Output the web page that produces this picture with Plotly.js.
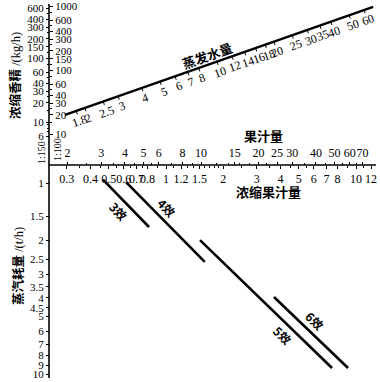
<!DOCTYPE html>
<html><head><meta charset="utf-8">
<script src="https://cdn.plot.ly/plotly-3.0.1.min.js"></script>
<style>html,body{margin:0;padding:0;background:#fff}#chart{width:380px;height:382px}</style>
</head><body><div id="chart"></div>
<script>
// ---------- DATA ----------
const juiceVals = [2,3,4,5,6,8,10,15,20,25,30,40,50,60,70];            // 果汁量
const juiceMinor = [2.5,3.5,4.5,5.5,7,9,12,14,16,18,22,35,45,55,65];
const concVals = [0.3,0.4,0.5,0.6,0.7,0.8,1,1.2,1.5,2,3,4,5,6,7,8,10,12]; // 浓缩果汁量
const concMinor = [0.35,0.45,0.55,0.65,0.75,0.9,1.1,1.3,1.4,1.6,1.7,1.8,1.9,2.5,3.5,4.5,5.5,9,11];
const ess150Vals = [6,10,20,30,40,60,100,150,200,300,400,600];          // 浓缩香精 1:150
const ess150Minor = [7,8,9,15,25,50,80,120,250,500];
const ess100Vals = [10,20,30,40,60,100,150,200,300,400,600,1000];       // 浓缩香精 1:100
const ess100Minor = [15,25,50,80,120,250,500,800];
const steamVals = [1,1.5,2,2.5,3,3.5,4,4.5,5,6,7,8,9,10];              // 蒸汽耗量
const evapVals = [1.8,2,2.5,3,4,5,6,7,8,10,12,14,16,18,20,25,30,35,40,50,60]; // 蒸发水量
const evapRange = [1.57, 67];
const effectNames = ['3效','4效','5效','6效'];
const effectConcStart = [0.466,0.616,1.51,3.70];
const effectConcEnd   = [0.814,1.60,7.48,9.08];
const effectSteamStart = [0.96,0.99,1.99,3.95];
const effectSteamEnd   = [1.70,2.59,9.30,9.30];

// ---------- GEOMETRY / STYLE ----------
const W = 380, H = 382;
const AX_X = 49, AX_Y = 165;
const juiceS = {o:10, k:191};     // x = o + k*log v
const concS  = {o:166, k:190};
const steamS = {o:183, k:191};    // y(down) = o + k*log v
const e150S  = {o:186, k:64};     // y(down) = o - k*log v
const e100S  = {o:198, k:64};
const evapS  = {o:28, k:189, x0:65, y0:115, slope:0.351};
const effLabelT = [0.5,0.42,0.68,0.45];
const effLabelSide = [-1,1,-1,1];

const L = Math.log10;
const serif = 'Liberation Serif';
const cjk = 'Noto Sans CJK SC';
const tickFont = {family: serif, size: 12, color: '#000'};
const upFont = {family: serif, size: 11, color: '#000'};

function concX(v){return concS.o + concS.k*L(v);}
function steamY(v){return steamS.o + steamS.k*L(v);}
function evapX(v){return evapS.o + evapS.k*L(v);}
function evapY(x){return evapS.y0 - evapS.slope*(x - evapS.x0);}

const baseAx = {showgrid:false, zeroline:false, showline:false, ticks:'outside', ticklen:3,
  tickwidth:1, tickcolor:'#000', tickangle:0, tickfont:tickFont, fixedrange:true, tickmode:'array'};
function minor(vals){return {tickmode:'array', tickvals:vals, ticks:'outside', ticklen:2, tickwidth:1, tickcolor:'#000', showgrid:false};}

const traces = [];
for (let i=0;i<effectNames.length;i++){
  traces.push({type:'scatter', mode:'lines', xaxis:'x2', yaxis:'y2',
    x:[effectConcStart[i], effectConcEnd[i]], y:[effectSteamStart[i], effectSteamEnd[i]],
    line:{color:'#000', width:2.6}, hoverinfo:'skip'});
}
traces.push({type:'scatter', mode:'none', xaxis:'x3', yaxis:'y2', x:[juiceVals[0]], y:[steamVals[0]], hoverinfo:'skip'});
traces.push({type:'scatter', mode:'none', xaxis:'x2', yaxis:'y3', x:[concVals[0]], y:[ess150Vals[0]], hoverinfo:'skip'});
traces.push({type:'scatter', mode:'none', xaxis:'x2', yaxis:'y4', x:[concVals[0]], y:[ess100Vals[0]], hoverinfo:'skip'});

const th = Math.atan(evapS.slope);
const nx = Math.sin(th), ny = Math.cos(th);
const ex0 = evapX(evapRange[0]), ex1 = evapX(evapRange[1]);
traces.push({type:'scatter', mode:'lines', xaxis:'x', yaxis:'y',
  x:[ex0, ex1], y:[evapY(ex0), evapY(ex1)], line:{color:'#000', width:2.4}, hoverinfo:'skip'});
const tx=[], ty=[];
evapVals.forEach(v=>{const x=evapX(v), y=evapY(x); tx.push(x, x+nx*3.5, null); ty.push(y, y+ny*3.5, null);});
traces.push({type:'scatter', mode:'lines', xaxis:'x', yaxis:'y', x:tx, y:ty,
  line:{color:'#000', width:1}, hoverinfo:'skip'});

const annotations = [];
const angDeg = th*180/Math.PI;
evapVals.forEach(v=>{
  const x=evapX(v), y=evapY(x);
  annotations.push({xref:'x', yref:'y', x:x+nx*10.5, y:y+ny*10.5, text:String(v), showarrow:false,
    textangle:-angDeg, font:tickFont, xanchor:'center', yanchor:'middle'});
});
for (let i=0;i<effectNames.length;i++){
  const xa=concX(effectConcStart[i]), ya=steamY(effectSteamStart[i]);
  const xb=concX(effectConcEnd[i]), yb=steamY(effectSteamEnd[i]);
  const t=effLabelT[i];
  const dx=xb-xa, dy=yb-ya, len=Math.hypot(dx,dy);
  const px = dy/len, py = -dx/len;
  const ang = Math.atan2(dy,dx)*180/Math.PI;
  annotations.push({xref:'x', yref:'y', x:xa+dx*t+px*11*effLabelSide[i], y:ya+dy*t+py*11*effLabelSide[i],
    text:'<b>'+effectNames[i]+'</b>', showarrow:false, textangle:ang,
    font:{family:cjk, size:12, color:'#000'}, xanchor:'center', yanchor:'middle'});
}
const titleFont = {family:cjk, size:13, color:'#000'};
const unit = s => '<span style="font-family:Liberation Serif;font-weight:normal">'+s+'</span>';
annotations.push({xref:'x', yref:'y', x:14, y:76, text:'<b>浓缩香精</b>'+unit(' /(kg/h)'), textangle:-90, showarrow:false, font:{family:cjk, size:12.5, color:'#000'}});
annotations.push({xref:'x', yref:'y', x:17, y:266, text:'<b>蒸汽耗量</b>'+unit(' /(t/h)'), textangle:-90, showarrow:false, font:{family:cjk, size:12.5, color:'#000'}});
annotations.push({xref:'x', yref:'y', x:263, y:135, text:'<b>果汁量</b>', showarrow:false, font:titleFont});
annotations.push({xref:'x', yref:'y', x:268, y:191, text:'<b>浓缩果汁量</b>', showarrow:false, font:titleFont});
annotations.push({xref:'x', yref:'y', x:207, y:55, text:'<b>蒸发水量</b>', textangle:-angDeg, showarrow:false, font:titleFont});
annotations.push({xref:'x', yref:'y', x:41, y:153, text:'1:150', textangle:-90, showarrow:false, font:{family:serif, size:10, color:'#000'}});
annotations.push({xref:'x', yref:'y', x:57, y:150, text:'1:100', textangle:-90, showarrow:false, font:{family:serif, size:10, color:'#000'}});

const posX = AX_X/W, posY = 1 - AX_Y/H;
const layout = {
  width:W, height:H, margin:{l:0,r:0,t:0,b:0}, paper_bgcolor:'#fff', plot_bgcolor:'#fff', showlegend:false,
  xaxis:{range:[0,W], visible:false, fixedrange:true},
  yaxis:{range:[H,0], visible:false, fixedrange:true},
  xaxis2:Object.assign({}, baseAx, {type:'log', overlaying:'x', anchor:'free', position:posY, side:'bottom',
    range:[-concS.o/concS.k, (W-concS.o)/concS.k], tickvals:concVals, ticktext:concVals.map(String), minor:minor(concMinor)}),
  xaxis3:Object.assign({}, baseAx, {type:'log', overlaying:'x', anchor:'free', position:posY, side:'top',
    range:[-juiceS.o/juiceS.k, (W-juiceS.o)/juiceS.k], tickvals:juiceVals, ticktext:juiceVals.map(String), minor:minor(juiceMinor)}),
  yaxis2:Object.assign({}, baseAx, {type:'log', overlaying:'y', anchor:'free', position:posX, side:'left', tickfont:upFont,
    range:[(H-steamS.o)/steamS.k, -steamS.o/steamS.k], tickvals:steamVals, ticktext:steamVals.map(String)}),
  yaxis3:Object.assign({}, baseAx, {type:'log', overlaying:'y', anchor:'free', position:posX, side:'left', tickfont:upFont,
    range:[(e150S.o-H)/e150S.k, e150S.o/e150S.k], tickvals:ess150Vals, ticktext:ess150Vals.map(String), minor:minor(ess150Minor)}),
  yaxis4:Object.assign({}, baseAx, {type:'log', overlaying:'y', anchor:'free', position:posX, side:'right', tickfont:upFont,
    range:[(e100S.o-H)/e100S.k, e100S.o/e100S.k], tickvals:ess100Vals, ticktext:ess100Vals.map(String), minor:minor(ess100Minor)}),
  shapes:[
    {type:'line', xref:'x', yref:'y', x0:AX_X, x1:AX_X, y0:4, y1:378, line:{color:'#000', width:1.6}},
    {type:'line', xref:'x', yref:'y', x0:AX_X, x1:376, y0:AX_Y, y1:AX_Y, line:{color:'#000', width:1.6}}
  ],
  annotations:annotations
};
Plotly.newPlot('chart', traces, layout, {staticPlot:true, displayModeBar:false});
</script></body></html>
